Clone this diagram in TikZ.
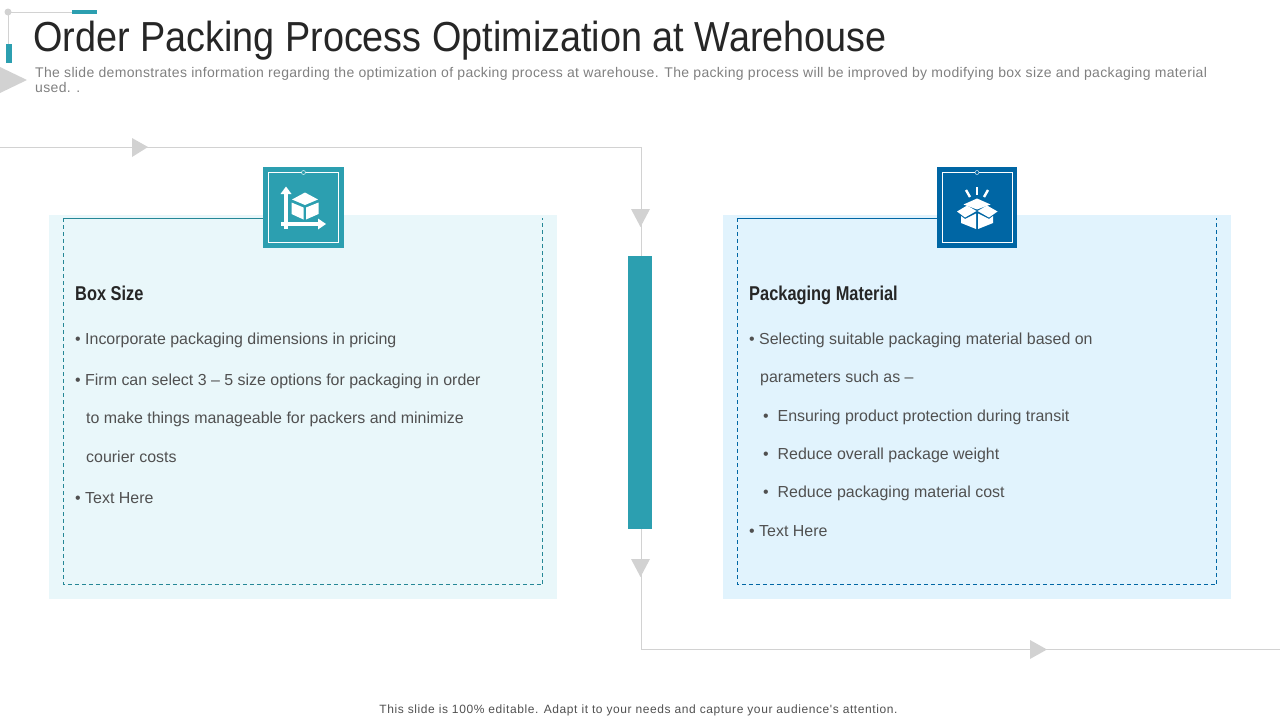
\documentclass[tikz,border=0pt]{standalone}
\usepackage{fontspec}
\setmainfont{Liberation Sans}
\newfontfamily\narrowfont[FakeStretch=0.9]{Liberation Sans}
\newfontfamily\headfont[FakeStretch=0.82]{Liberation Sans}
\newfontfamily\subfont[LetterSpace=2.4]{Liberation Sans}
\newfontfamily\footfont[LetterSpace=5]{Liberation Sans}
\definecolor{tealbar}{HTML}{2C9FB0}
\definecolor{darkblue}{HTML}{0066A4}
\definecolor{tealpale}{HTML}{E9F7FA}
\definecolor{bluepale}{HTML}{E1F3FD}
\definecolor{trackgrey}{HTML}{D2D2D2}
\definecolor{bodygrey}{HTML}{505050}
\tikzset{
  panel/.style={inner sep=0pt, minimum width=508pt, minimum height=384pt},
  framebox/.style={inner sep=0pt, minimum width=479pt, minimum height=366pt},
  frameline/.style={line width=1pt, dash pattern=on 4pt off 3pt},
  iconbox/.style={inner sep=0pt, minimum width=81pt, minimum height=81pt},
  bodytext/.style={anchor=base west, inner sep=0pt, text=bodygrey, font=\fontsize{15.95}{16}\selectfont},
  headtext/.style={anchor=base west, inner sep=0pt, text=black!85, font=\headfont\bfseries\fontsize{20}{20}\selectfont},
  subtext/.style={anchor=base west, inner sep=0pt, text=black!50, font=\subfont\fontsize{14}{14}\selectfont},
  track/.style={draw=trackgrey, line width=1pt},
  tip/.style={fill=trackgrey}
}
\begin{document}
\begin{tikzpicture}[x=1pt,y=-1pt]
    \useasboundingbox (0,0) rectangle (1280,720);
    % corner mark
    \coordinate (cornerdot) at (8,12);
    \coordinate (cornerright) at (72,12);
    \coordinate (cornerdown) at (8,44);
    \draw [track] (cornerright)--(cornerdot)--(cornerdown);
    \fill [trackgrey] (cornerdot) circle (3.5);
    \fill [tealbar] (72,10) rectangle (97,14);
    \fill [tealbar] (6,44) rectangle (12,63);
    \fill [trackgrey] (0,67)--(27,80)--(0,93)--cycle;
    % heading
    \node (title) at (33,51) [anchor=base west, inner sep=0pt, text=black!85, font=\narrowfont\fontsize{42}{42}\selectfont] {Order Packing Process Optimization at Warehouse};
    \node (sub1) at (35,77) [subtext] {The slide demonstrates information regarding the optimization of packing process at warehouse. The packing process will be improved by modifying box size and packaging material};
    \node (sub2) at (35,92) [subtext] {used. .};
    % track
    \coordinate (trackstart) at (0,147.5);
    \coordinate (trackone) at (641,147.5);
    \coordinate (tracktwo) at (641,649.5);
    \coordinate (trackend) at (1280,649.5);
    \draw [track] (trackstart)--(trackone)--(tracktwo)--(trackend);
    \fill [tip] (132,138)--(148,147)--(132,157)--cycle;
    \fill [tip] (631,209)--(650,209)--(640.5,227)--cycle;
    \fill [tip] (631,559)--(650,559)--(640.5,577)--cycle;
    \fill [tip] (1030,640)--(1047,649.5)--(1030,659)--cycle;
    \node (midbar) at (640,392.5) [fill=tealbar, inner sep=0pt, minimum width=24pt, minimum height=273pt] {};
    % panels
    \node (leftpanel) at (303,407) [panel, fill=tealpale] {};
    \node (rightpanel) at (977,407) [panel, fill=bluepale] {};
    \node (leftframe) at (303,401.5) [framebox] {};
    \node (rightframe) at (977,401.5) [framebox] {};
    \node (lefticon) at (303.5,207.5) [iconbox, fill=tealbar] {};
    \node (righticon) at (977,207.5) [iconbox, minimum width=80pt, fill=darkblue] {};
    \draw [tealbar!85!black, frameline] (leftframe.north west)--(leftframe.south west)--(leftframe.south east)--(leftframe.north east);
    \draw [tealbar!85!black] (leftframe.north west)--(leftframe.north west -| lefticon.west);
    \draw [darkblue, frameline] (rightframe.north west)--(rightframe.south west)--(rightframe.south east)--(rightframe.north east);
    \draw [darkblue] (rightframe.north west)--(rightframe.north west -| righticon.west);
    % icon frames
    \draw [white] (268.5,172.5) rectangle (338.5,242.5);
    \draw [white, fill=tealbar] (303.5,172.5) circle (2);
    \draw [white] (942,172.5) rectangle (1012,242.5);
    \draw [white, fill=darkblue] (977,172.5) circle (2);
    % axes and cube
    \draw [white, line width=3.4pt] (286,192)--(286,229);
    \draw [white, line width=3.4pt] (281,224)--(320,224);
    \fill [white] (280.5,194)--(286,186.5)--(291.5,194)--cycle;
    \fill [white] (318,218.5)--(326,224)--(318,229.5)--cycle;
    \fill [white] (305,192.5)--(318,199.5)--(305,205)--(292,199.5)--cycle;
    \fill [white] (291.5,202.5)--(303.5,207.5)--(303.5,219.5)--(291.5,214)--cycle;
    \fill [white] (306,207.5)--(318.5,202.5)--(318.5,214)--(306,219.5)--cycle;
    % open box
    \draw [white, line width=2.4pt] (977,187)--(977,195);
    \draw [white, line width=2.4pt] (966,190)--(970,197);
    \draw [white, line width=2.4pt] (988,190)--(984,197);
    \fill [white] (977,198.5)--(990.5,204.5)--(977,209.5)--(963.5,204.5)--cycle;
    \fill [white] (957,211.5)--(967,205.5)--(976.5,211)--(965,217.5)--cycle;
    \fill [white] (997.5,211.5)--(987,205.5)--(977.5,211)--(989,217.5)--cycle;
    \fill [white] (961,216)--(965,219)--(976,213.5)--(976,229)--(961,223)--cycle;
    \fill [white] (993,216)--(989,219)--(978,213.5)--(978,229)--(993,223)--cycle;
    % left text
    \node (boxhead) at (75,300) [headtext] {Box Size};
    \node (boxa) at (75,344) [bodytext] {• Incorporate packaging dimensions in pricing};
    \node (boxb) at (75,385) [bodytext] {• Firm can select 3 – 5 size options for packaging in order};
    \node (boxc) at (86,423) [bodytext] {to make things manageable for packers and minimize};
    \node (boxd) at (86,462) [bodytext] {courier costs};
    \node (boxe) at (75,503) [bodytext] {• Text Here};
    % right text
    \node (mathead) at (749,300) [headtext] {Packaging Material};
    \node (mata) at (749,344) [bodytext] {• Selecting suitable packaging material based on};
    \node (matb) at (760,382) [bodytext] {parameters such as –};
    \node (matc) at (763,421) [bodytext] {• \ Ensuring product protection during transit};
    \node (matd) at (763,459) [bodytext] {• \ Reduce overall package weight};
    \node (mate) at (763,497) [bodytext] {• \ Reduce packaging material cost};
    \node (matf) at (749,536) [bodytext] {• Text Here};
    % footer
    \node (footer) at (638.5,713) [anchor=base, inner sep=0pt, text=bodygrey, font=\footfont\fontsize{12}{12}\selectfont] {This slide is 100\% editable. Adapt it to your needs and capture your audience's attention.};
  \end{tikzpicture}
\end{document}
